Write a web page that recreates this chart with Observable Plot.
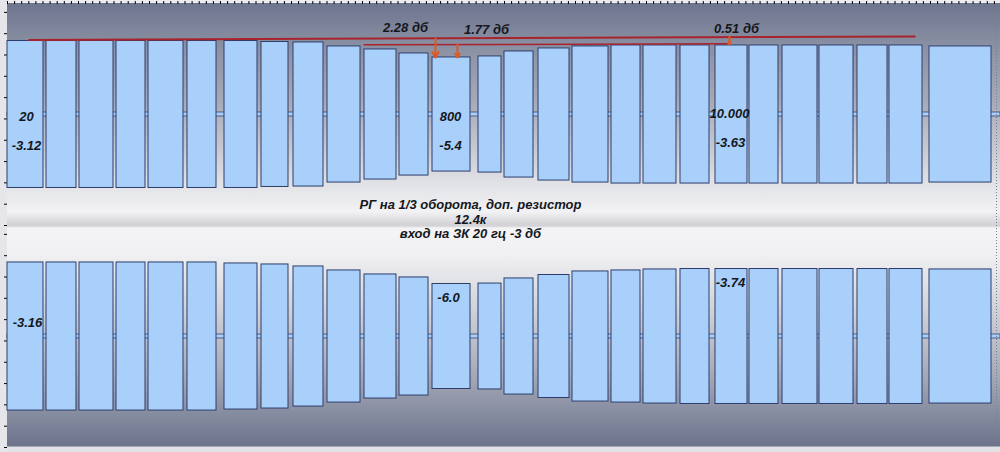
<!DOCTYPE html>
<html>
<head>
<meta charset="utf-8">
<script src="https://cdn.jsdelivr.net/npm/d3@7"></script>
<script src="https://cdn.jsdelivr.net/npm/@observablehq/plot@0.6"></script>
<style>
  html, body { margin: 0; padding: 0; background: #e4e4e8; }
  #chart { width: 1000px; height: 452px; }
</style>
</head>
<body>
<div id="chart"></div>
<script>
// Channels of the stereo recording
const channels = ["L", "R"];

// Tone bursts: start / end time (s)
const blockStart = [0, 3.9, 7.2, 10.9, 14.1, 18.0, 21.7, 25.4, 28.6, 32.0, 35.7, 39.2, 42.5, 47.1, 49.7, 53.1, 56.5, 60.4, 63.6, 67.3, 70.8, 74.2, 77.5, 81.2, 85.0, 88.2, 92.2];
const blockEnd   = [3.6, 6.9, 10.6, 13.8, 17.6, 20.9, 25.0, 28.1, 31.6, 35.3, 38.9, 42.1, 46.3, 49.4, 52.6, 56.2, 60.1, 63.3, 66.9, 70.2, 74.0, 77.1, 81.0, 84.6, 88.0, 91.5, 98.4];

// Peak amplitude (fraction of full scale) per burst, upper and lower channel
const ampL = [0.662, 0.662, 0.662, 0.662, 0.662, 0.662, 0.662, 0.653, 0.649, 0.613, 0.586, 0.550, 0.514, 0.523, 0.568, 0.595, 0.613, 0.622, 0.622, 0.622, 0.622, 0.622, 0.622, 0.622, 0.622, 0.622, 0.613];
const ampR = [0.667, 0.667, 0.667, 0.667, 0.667, 0.667, 0.658, 0.649, 0.631, 0.595, 0.559, 0.532, 0.473, 0.477, 0.523, 0.554, 0.586, 0.595, 0.604, 0.608, 0.608, 0.608, 0.608, 0.608, 0.608, 0.608, 0.604];

// Reference lines drawn over the upper channel
const refLine1T = [2.1, 90.8];
const refLine1Y = [0.671, 0.703];
const refLine2T = [35.6, 72.0];
const refLine2Y = [0.628, 0.637];

// Markers (arrows)
const arrowT  = [42.8, 45.0, 72.2];
const arrowY1 = [0.685, 0.631, 0.700];
const arrowY2 = [0.514, 0.514, 0.630];

// Annotations
const labelText = ["20", "-3.12", "800", "-5.4", "10.000", "-3.63", "-3.16", "-6.0", "-3.74", "2.28 дб", "1.77 дб", "0.51 дб"];
const labelT    = [1.9, 1.9, 44.3, 44.3, 72.2, 72.3, 2.0, 44.1, 72.3, 39.8, 47.9, 72.9];
const labelY    = [-0.018, -0.279, -0.018, -0.279, 0.009, -0.252, 0.126, 0.351, 0.486, 0.784, 0.766, 0.775];
const labelCh   = ["L", "L", "L", "L", "L", "L", "R", "R", "R", "L", "L", "L"];

const captionLines = ["РГ на 1/3 оборота, доп. резистор", "12.4к", "вход на ЗК 20 гц -3 дб"];
const captionT = [46.3, 46.3, 46.3];
const captionY = [-0.811, -0.946, -1.072];

// Ruler ticks
const xTicks = d3.range(0, 99, 0.71);
const yTicks = d3.range(-1, 1.001, 0.192);

// Tables for the marks
const blocks = channels.flatMap(ch => blockStart.map((s, i) => ({
  channel: ch, t1: s, t2: blockEnd[i], amp: ch === "L" ? ampL[i] : ampR[i]
})));
const refLines = [
  {t1: refLine1T[0], y1: refLine1Y[0], t2: refLine1T[1], y2: refLine1Y[1], channel: "L", w: 2},
  {t1: refLine2T[0], y1: refLine2Y[0], t2: refLine2T[1], y2: refLine2Y[1], channel: "L", w: 1.5}
];
const arrows = arrowT.map((t, i) => ({t, y1: arrowY1[i], y2: arrowY2[i], channel: "L"}));
const labels = labelText.map((text, i) => ({text, t: labelT[i], y: labelY[i], channel: labelCh[i]}));
const captions = captionLines.map((text, i) => ({text, t: captionT[i], y: captionY[i], channel: "L"}));
const center = channels.map(ch => ({channel: ch, t1: 0, t2: 99.3}));

const font = "'Liberation Sans', Arial, sans-serif";

const bg = "background: " + [
  "linear-gradient(to right, #e6e6ea 0, #e6e6ea 7px, transparent 7px)",
  "linear-gradient(to bottom, #ececef 0, #ececef 3px, transparent 3px)",
  "linear-gradient(to bottom, #6d748e 3px, #8a90a3 45px, #a5a9b7 100px, #c8cad2 150px, #e2e3e7 185px, #f2f2f4 212px, #d4d4d8 224px, #d4d4d8 226px, #f4f4f6 228px, #f0f0f2 255px, #d6d8de 300px, #a9adba 370px, #898fa2 410px, #6c738b 446px, #e2e2e6 447px, #e2e2e6 452px)"
].join(", ") + "; font-family: " + font + ";";

const chart = Plot.plot({
  width: 1000,
  height: 452,
  marginTop: 3,
  marginBottom: 5,
  marginLeft: 7,
  marginRight: 7,
  style: bg,
  x: {domain: [0, 98.6], axis: "top", ticks: xTicks, tickSize: 3, tickFormat: () => "", label: null},
  y: {domain: [-1, 1], ticks: yTicks, tickSize: 3, tickFormat: () => "", label: null},
  fy: {domain: channels, axis: null, padding: 0, label: null},
  marks: [
    Plot.rect(center, {x1: "t1", x2: "t2", y1: -0.018, y2: 0.018, fy: "channel", fill: "#a8d0fa", stroke: "#34446f", strokeWidth: 0.8}),
    Plot.rect(blocks, {x1: "t1", x2: "t2", y1: d => -d.amp, y2: "amp", fy: "channel", fill: "#a8d0fa", stroke: "#2e3d6b", strokeWidth: 1}),
    Plot.ruleX([98.9], {stroke: "#7a7f8c", strokeDasharray: "1,2", strokeWidth: 1}),
    Plot.link(refLines, {x1: "t1", y1: "y1", x2: "t2", y2: "y2", fy: "channel", stroke: "#a9232c", strokeWidth: "w"}),
    Plot.arrow(arrows, {x1: "t", x2: "t", y1: "y1", y2: "y2", fy: "channel", stroke: "#e2581e", strokeWidth: 2, headLength: 7}),
    Plot.text(labels, {x: "t", y: "y", text: "text", fy: "channel", fontSize: 13, fontWeight: "bold", fontStyle: "italic", fill: "#15171c", fontFamily: font}),
    Plot.text(captions, {x: "t", y: "y", text: "text", fy: "channel", fontSize: 13, fontWeight: "bold", fontStyle: "italic", fill: "#15171c", fontFamily: font})
  ]
});
document.getElementById("chart").appendChild(chart);
</script>
</body>
</html>
